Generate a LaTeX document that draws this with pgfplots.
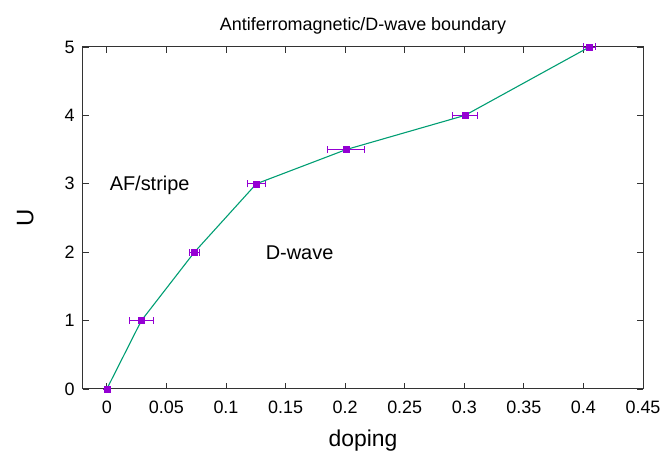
\documentclass[border=0pt]{standalone}
\usepackage{fontspec}
\setmainfont{Liberation Sans}
\usepackage{pgfplots}
\pgfplotsset{compat=1.18}
\definecolor{gpgreen}{HTML}{009E73}
\definecolor{gppurple}{HTML}{9400D3}
\begin{document}
\begin{tikzpicture}
\begin{axis}[
  scale only axis,
  width=560bp, height=342bp,
  xmin=-0.02, xmax=0.45, ymin=0, ymax=5,
  xtick={0,0.05,...,0.451},
  xticklabels={0,0.05,0.1,0.15,0.2,0.25,0.3,0.35,0.4,0.45},
  ytick={0,1,2,3,4,5},
  tick align=inside,
  xtick pos=both, ytick pos=both,
  major tick length=6bp,
  axis line style={black!80, line width=1bp},
  tick style={black!80, line width=0.8bp},
  /pgf/number format/assume math mode=true,
  ticklabel style={font=\fontsize{18}{20}\selectfont},
  xticklabel style={yshift=-8bp},
  yticklabel style={xshift=-5bp},
  title={Antiferromagnetic/D-wave boundary},
  title style={font=\fontsize{18}{20}\selectfont, yshift=3bp},
  xlabel={doping},
  xlabel style={font=\fontsize{23}{25}\selectfont, yshift=-10bp},
  ylabel={U},
  ylabel style={font=\fontsize{24}{26}\selectfont, yshift=24bp},
  clip=false,
]
\addplot[draw=none, mark=square*, mark size=3bp, mark options={gppurple, fill=gppurple, line width=0.3bp},
  error bars/.cd, x dir=both, x explicit,
  error bar style={gppurple, line width=0.8bp},
  error mark options={gppurple, line width=0.8bp, mark size=3.5bp, rotate=90}]
  coordinates {
  (0,0) +- (0,0)
  (0.029,1) +- (0.010,0)
  (0.0735,2) +- (0.0045,0)
  (0.1255,3) +- (0.0075,0)
  (0.2008,3.5) +- (0.0153,0)
  (0.3005,4) +- (0.0102,0)
  (0.405,5) +- (0.005,0)
  };
\addplot[gpgreen, line width=1.1bp, mark=none]
  coordinates {
  (0,0) (0.029,1) (0.0735,2) (0.1255,3) (0.2008,3.5) (0.3005,4) (0.405,5)
  };
\node[anchor=base west, font=\fontsize{20}{22}\selectfont] at (axis cs:-0.0005,2.9) {AF/stripe};
\node[anchor=base west, font=\fontsize{20}{22}\selectfont] at (axis cs:0.1305,1.9) {D-wave};
\end{axis}
\path ([shift={(-83bp,-71bp)}]current axis.south west) rectangle ([shift={(24bp,47bp)}]current axis.north east);
\end{tikzpicture}
\end{document}
